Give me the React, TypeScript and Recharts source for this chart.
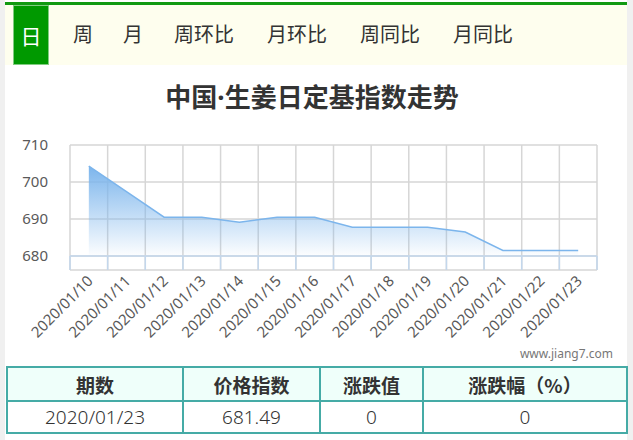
import React from "react";
import {
  AreaChart,
  Area,
  XAxis,
  YAxis,
  CartesianGrid,
  ReferenceLine,
} from "recharts";

// daily ginger index, 2020/01/10 .. 2020/01/23
const dates = [
  "2020/01/10",
  "2020/01/11",
  "2020/01/12",
  "2020/01/13",
  "2020/01/14",
  "2020/01/15",
  "2020/01/16",
  "2020/01/17",
  "2020/01/18",
  "2020/01/19",
  "2020/01/20",
  "2020/01/21",
  "2020/01/22",
  "2020/01/23",
];
const indexValues = [
  704.3, 697.4, 690.5, 690.5, 689.1, 690.5, 690.5, 687.8, 687.8, 687.8, 686.5,
  681.49, 681.49, 681.49,
];
const yTicks = [680, 690, 700, 710];

const tabs = ["日", "周", "月", "周环比", "月环比", "周同比", "月同比"];
const tableHeaders = ["期数", "价格指数", "涨跌值", "涨跌幅（%）"];
const tableRow = ["2020/01/23", "681.49", "0", "0"];

const chartData = dates.map((date, i) => ({ date, value: indexValues[i] }));

const PLOT_LEFT = 70;
const PLOT_WIDTH = 527;
const BAND = PLOT_WIDTH / dates.length;
const FONT = '"Noto Sans CJK SC", "Noto Sans", sans-serif';
const TEAL = "#45aba6";

const DateTick = (props: any) => {
  const { x, y, payload, index } = props;
  const half = BAND / 2;
  const tx = x + 5;
  const ty = y + 12;
  return (
    <g>
      <line
        x1={x - half}
        x2={x - half}
        y1={y - 14}
        y2={y}
        stroke="#c3d7ec"
        strokeWidth={1.5}
      />
      {index === dates.length - 1 && (
        <line
          x1={x + half}
          x2={x + half}
          y1={y - 14}
          y2={y}
          stroke="#c3d7ec"
          strokeWidth={1.5}
        />
      )}
      <text
        x={tx}
        y={ty}
        transform={`rotate(-45 ${tx} ${ty})`}
        textAnchor="end"
        fill="#595959"
        fontSize={15}
        fontFamily='"Noto Sans", sans-serif'
      >
        {payload.value}
      </text>
    </g>
  );
};

export default function App() {
  const cell: React.CSSProperties = {
    border: `2px solid ${TEAL}`,
    textAlign: "center",
    padding: 0,
    color: "#333",
  };

  return (
    <div
      style={{
        position: "absolute",
        left: 0,
        top: 0,
        width: 633,
        height: 440,
        background: "#f0f0f0",
        fontFamily: FONT,
        overflow: "hidden",
      }}
    >
      <div
        style={{
          position: "absolute",
          left: 5,
          top: 0,
          width: 622,
          height: 440,
          background: "#fff",
        }}
      >
        {/* top green rule */}
        <div
          style={{
            position: "absolute",
            left: 0,
            top: 2,
            width: 622,
            height: 3,
            background: "#119a11",
          }}
        />
        {/* tab bar */}
        <div
          style={{
            position: "absolute",
            left: 0,
            top: 5,
            width: 622,
            height: 60,
            background: "#fefeee",
          }}
        >
          {tabs.map((t, i) =>
            i === 0 ? (
              <div
                key={t}
                style={{
                  position: "absolute",
                  left: 8,
                  top: 0,
                  width: 34,
                  height: 58,
                  background: "#009900",
                  border: "1px solid #80cc80",
                  color: "#fff",
                  fontSize: 21,
                  display: "flex",
                  alignItems: "center",
                  justifyContent: "center",
                }}
              >
                {t}
              </div>
            ) : (
              <span
                key={t}
                style={{
                  position: "absolute",
                  left: [0, 68, 118, 169, 262, 355, 448][i],
                  top: 17,
                  fontSize: 20,
                  lineHeight: "24px",
                  color: "#333",
                }}
              >
                {t}
              </span>
            )
          )}
        </div>

        {/* title */}
        <div
          style={{
            position: "absolute",
            left: 0,
            top: 79,
            width: 614,
            textAlign: "center",
            fontSize: 26,
            fontWeight: 700,
            lineHeight: "34px",
            color: "#333",
          }}
        >
          中国
          <span style={{ fontFamily: '"Noto Sans", sans-serif' }}>·</span>
          生姜日定基指数走势
        </div>

        {/* watermark */}
        <div
          style={{
            position: "absolute",
            right: 14,
            top: 345,
            fontSize: 12,
            color: "#777",
            fontFamily: '"Noto Sans", sans-serif',
          }}
        >
          www.jiang7.com
        </div>

        {/* table */}
        <table
          style={{
            position: "absolute",
            left: 1,
            top: 366,
            width: 620,
            borderCollapse: "collapse",
            tableLayout: "fixed",
          }}
        >
          <colgroup>
            <col style={{ width: 176 }} />
            <col style={{ width: 137 }} />
            <col style={{ width: 103 }} />
            <col style={{ width: 204 }} />
          </colgroup>
          <tbody>
            <tr style={{ height: 34, background: "#effffa" }}>
              {tableHeaders.map((h) => (
                <td
                  key={h}
                  style={{ ...cell, fontSize: 19, fontWeight: 700 }}
                >
                  {h}
                </td>
              ))}
            </tr>
            <tr style={{ height: 32 }}>
              {tableRow.map((v, i) => (
                <td
                  key={i}
                  style={{
                    ...cell,
                    fontSize: 19,
                    fontWeight: 300,
                    fontFamily: '"Noto Sans", sans-serif',
                  }}
                >
                  {v}
                </td>
              ))}
            </tr>
          </tbody>
        </table>
      </div>

      {/* chart */}
      <div style={{ position: "absolute", left: 0, top: 130 }}>
        <AreaChart
          width={633}
          height={220}
          data={chartData}
          margin={{ top: 15, right: 36, left: 0, bottom: 0 }}
        >
          <defs>
            <linearGradient id="gingerFill" x1="0" y1="0" x2="0" y2="1">
              <stop offset="0%" stopColor="#7cb5ec" stopOpacity={1} />
              <stop offset="100%" stopColor="#7cb5ec" stopOpacity={0.02} />
            </linearGradient>
          </defs>
          <CartesianGrid
            stroke="#d6d6d6"
            strokeWidth={1.5}
            verticalCoordinatesGenerator={(p: any) => {
              const left = p?.offset?.left ?? PLOT_LEFT;
              const w = p?.offset?.width ?? PLOT_WIDTH;
              return dates
                .map((_, i) => left + (i * w) / dates.length)
                .concat(left + w);
            }}
          />
          <XAxis
            dataKey="date"
            interval={0}
            height={80}
            padding={{ left: BAND / 2, right: BAND / 2 }}
            axisLine={false}
            tickLine={false}
            tickSize={0}
            tickMargin={0}
            tick={<DateTick />}
          />
          <YAxis
            width={70}
            domain={[676.22, 710]}
            ticks={yTicks}
            axisLine={false}
            tickLine={false}
            tickSize={0}
            tickMargin={22}
            tick={{
              fill: "#595959",
              fontSize: 15,
              fontFamily: '"Noto Sans", sans-serif',
            }}
          />
          <ReferenceLine y={680} stroke="#c3d7ec" strokeWidth={1.5} />
          <Area
            type="linear"
            dataKey="value"
            baseValue={680}
            stroke="#7cb5ec"
            strokeWidth={1.5}
            fill="url(#gingerFill)"
            fillOpacity={1}
            dot={false}
            activeDot={false}
            isAnimationActive={false}
          />
        </AreaChart>
      </div>
    </div>
  );
}
